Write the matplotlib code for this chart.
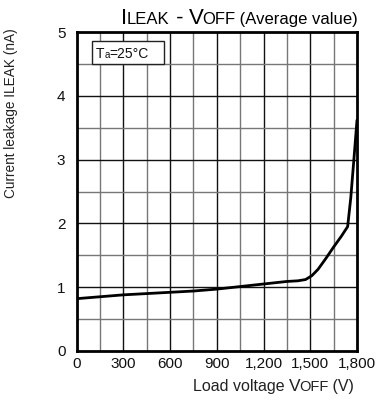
import matplotlib
matplotlib.use("Agg")
import matplotlib.pyplot as plt
import numpy as np

plt.rcParams['font.family'] = ['Liberation Sans', 'DejaVu Sans']

voltage = [0, 150, 300, 450, 600, 750, 900, 1050, 1200, 1350, 1420, 1470, 1510, 1550, 1600, 1650, 1700, 1740, 1760, 1780, 1800]
leakage = [0.82, 0.85, 0.88, 0.90, 0.92, 0.94, 0.97, 1.01, 1.05, 1.09, 1.10, 1.12, 1.18, 1.28, 1.45, 1.63, 1.80, 1.95, 2.40, 3.00, 3.62]
x_ticks = [0, 300, 600, 900, 1200, 1500, 1800]
x_tick_labels = ["0", "300", "600", "900", "1,200", "1,500", "1,800"]
y_ticks = [0, 1, 2, 3, 4, 5]

W, H = 376, 403
fig = plt.figure(figsize=(W/100, H/100), dpi=100)
ax = fig.add_axes([76.5/W, 52/H, (357-76.5)/W, (351-32)/H])

ax.set_xlim(0, 1800)
ax.set_ylim(0, 5)

# grid
for v in np.arange(150, 1800, 150):
    major = (v % 300 == 0)
    ax.axvline(v, color='#111111' if major else '#777777', lw=1.0, zorder=1)
for v in np.arange(0.5, 5, 0.5):
    major = abs(v - round(v)) < 1e-9
    ax.axhline(v, color='#111111' if major else '#777777', lw=1.0, zorder=1)

ax.plot(voltage, leakage, color='black', lw=2.0, zorder=3, solid_capstyle='round', solid_joinstyle='round')

for s in ax.spines.values():
    s.set_linewidth(2.0)
    s.set_color('black')

ax.set_xticks(x_ticks)
ax.set_xticklabels(x_tick_labels)
ax.set_yticks(y_ticks)
ax.tick_params(length=0, labelsize=11, colors='#111111')
ax.tick_params(axis='y', pad=8)
ax.tick_params(axis='x', pad=4)

renderer = fig.canvas.get_renderer()

def run_text(x_px, y_px_from_top, pieces, color='black', zorder=6):
    """Place pieces [(text, size, kern_px)] side by side on a common baseline (pixel coords)."""
    x = x_px
    yb = (H - y_px_from_top) / H
    for txt, size, kern in pieces:
        t = fig.text(x / W, yb, txt, fontsize=size, va='baseline', ha='left', color=color, zorder=zorder)
        bb = t.get_window_extent(renderer)
        x += bb.width + kern

# Ta box
box = plt.Rectangle((92/W, (H-64)/H), (164-92)/W, (64-41)/H, transform=fig.transFigure,
                    facecolor='white', edgecolor='#222222', lw=1.0, zorder=4)
box.set_clip_on(False)
ax.add_artist(box)
run_text(96, 58, [("T", 10, 0), ("a", 7, 0), ("=25°C", 10, 0)], color='#111111')

# Title with small-caps style
run_text(121, 24, [("I", 16, 0), ("LEAK", 12, 0), (" - ", 16, 0), ("V", 16, -2), ("OFF", 12, 0),
                   (" (Average value)", 12, 0)])

# y label
fig.text(11/W, (H-113)/H, "Current leakage ILEAK (nA)", rotation=90, fontsize=9.8,
         va='center', ha='center', color='#222222')

# x label
run_text(193, 391, [("Load voltage ", 11.5, 0), ("V", 12.5, -2), ("OFF", 10.5, 0), (" (V)", 11.5, 0)],
         color='#222222')

fig.savefig("out.png", dpi=100)
